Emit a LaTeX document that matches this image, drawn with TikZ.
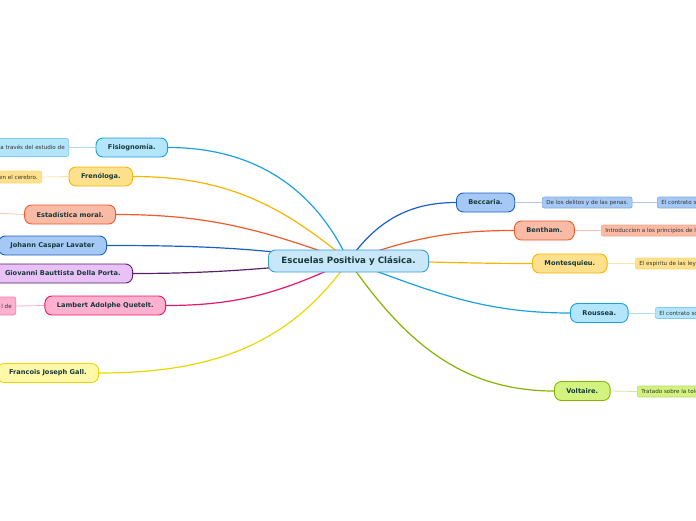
\documentclass[tikz,border=0pt]{standalone}
\usepackage{fontspec}
\setsansfont{DejaVu Sans}
\usetikzlibrary{positioning,backgrounds}
\definecolor{rootfill}{HTML}{C8E8FA}
\definecolor{rootline}{HTML}{3A9AD9}
\definecolor{cyanfill}{HTML}{B3E5FC}
\definecolor{cyanline}{HTML}{1AA1E1}
\definecolor{amberfill}{HTML}{FFE08C}
\definecolor{amberline}{HTML}{F7B500}
\definecolor{salmonfill}{HTML}{F9BBA6}
\definecolor{salmonline}{HTML}{F05A28}
\definecolor{bluefill}{HTML}{A6C8F5}
\definecolor{blueline}{HTML}{1A5FC8}
\definecolor{lilacfill}{HTML}{E8C1F7}
\definecolor{lilacline}{HTML}{5A1E6B}
\definecolor{pinkfill}{HTML}{FFB0CF}
\definecolor{pinkline}{HTML}{E8156C}
\definecolor{lemonfill}{HTML}{FFF8A8}
\definecolor{lemonline}{HTML}{ECD600}
\definecolor{limefill}{HTML}{D2F47E}
\definecolor{limeline}{HTML}{86B300}
\definecolor{labeltext}{HTML}{17393A}
\definecolor{leaftext}{HTML}{333333}

\begin{document}
\begin{tikzpicture}[x=1pt,y=-1pt,
    topic/.style={draw=#1line,fill=#1fill,line width=0.9pt,rounded corners=7pt,
      minimum height=19pt,inner xsep=12pt,inner ysep=0pt,text=labeltext,
      font=\sffamily\bfseries\fontsize{6.6}{7}\selectfont},
    leaf/.style={draw=#1line!55,fill=#1fill,line width=0.6pt,rounded corners=2pt,
      minimum height=11pt,inner xsep=4pt,inner ysep=0pt,text=leaftext,
      font=\sffamily\fontsize{5.6}{6}\selectfont},
    branch/.style={#1line,line width=1.2pt},
    twig/.style={#1line!35,line width=0.8pt}]
        \useasboundingbox(0,0)rectangle(696,520);
        \clip(0,0)rectangle(696,520);
        \node[draw=rootline,fill=rootfill,line width=0.9pt,rounded corners=7pt,
          minimum height=22pt,inner xsep=13pt,text=labeltext,
          font=\sffamily\bfseries\fontsize{8.7}{9}\selectfont]
          (root)at(348.5,261){Escuelas Positiva y Clásica.};
        % lado izquierdo
        \node[topic=cyan,anchor=east](fis)at(168,147.5){Fisiognomía.};
        \node[topic=amber,anchor=east](fren)at(133,176.5){Frenóloga.};
        \node[topic=salmon,anchor=east](estad)at(116,214.5){Estadística moral.};
        \node[topic=blue,anchor=east](lav)at(107,245.5){Johann Caspar Lavater};
        \node[topic=lilac,anchor=east](porta)at(133,273.5){Giovanni Bauttista Della Porta.};
        \node[topic=pink,anchor=east](quet)at(166,305.5){Lambert Adolphe Quetelt.};
        \node[topic=lemon,anchor=east](gall)at(99,373){Francois Joseph Gall.};
        \node[leaf=cyan,anchor=east,minimum height=18pt](fisleaf)at(69,147.5){a través del estudio de};
        \node[leaf=amber,anchor=east,minimum height=12pt](frenleaf)at(42,177){en el cerebro.};
        \coordinate(estadleaf)at(-6,213);
        \node[leaf=pink,anchor=east,minimum height=18pt](quetleaf)at(16,306){l de};
        % lado derecho
        \node[topic=blue,anchor=west](becc)at(456,202.5){Beccaria.};
        \node[topic=salmon,anchor=west](benth)at(514,230.5){Bentham.};
        \node[topic=amber,anchor=west](montq)at(532,263.5){Montesquieu.};
        \node[topic=cyan,anchor=west](rouss)at(570,313){Roussea.};
        \node[topic=lime,anchor=west](volt)at(554,391){Voltaire.};
        \node[leaf=blue,anchor=west](beccleaf)at(542,202.5){De los delitos y de las penas.};
        \node[leaf=blue,anchor=west](beccleafb)at(657,202.5){El contrato social.};
        \node[leaf=salmon,anchor=west](benthleaf)at(601,230.5){Introduccion a los principios de la moral y legislación.};
        \node[leaf=amber,anchor=west](montqleaf)at(635,263.5){El espiritu de las leyes.};
        \node[leaf=cyan,anchor=west](roussleaf)at(655,313){El contrato social.};
        \node[leaf=lime,anchor=west](voltleaf)at(637,391.5){Tratado sobre la tolerancia.};
        \begin{scope}[on background layer]
          \draw[branch=cyan](root.center)to[out=115,in=0](fis.east);
          \draw[branch=amber](root.center)to[out=140,in=0](fren.east);
          \draw[branch=salmon](root.center)to[out=160,in=0](estad.east);
          \draw[branch=blue](root.center)to[out=172,in=0](lav.east);
          \draw[branch=lilac](root.center)to[out=185,in=0](porta.east);
          \draw[branch=pink](root.center)to[out=205,in=0](quet.east);
          \draw[branch=lemon](root.center)to[out=235,in=0](gall.east);
          \draw[branch=blue](root.center)to[out=55,in=180](becc.west);
          \draw[branch=salmon](root.center)to[out=20,in=180](benth.west);
          \draw[branch=amber](root.center)to[out=0,in=180](montq.west);
          \draw[branch=cyan](root.center)to[out=-20,in=180](rouss.west);
          \draw[branch=lime](root.center)to[out=-55,in=180](volt.west);
          \draw[twig=cyan](fis.west)--(fisleaf.east);
          \draw[twig=amber](fren.west)--(frenleaf.east);
          \draw[twig=salmon](estad.west)--(estadleaf);
          \draw[twig=pink](quet.west)--(quetleaf.east);
          \draw[twig=blue](becc.east)--(beccleaf.west);
          \draw[twig=blue](beccleaf.east)--(beccleafb.west);
          \draw[twig=salmon](benth.east)--(benthleaf.west);
          \draw[twig=amber](montq.east)--(montqleaf.west);
          \draw[twig=cyan](rouss.east)--(roussleaf.west);
          \draw[twig=lime](volt.east)--(voltleaf.west);
        \end{scope}
      \end{tikzpicture}
\end{document}
